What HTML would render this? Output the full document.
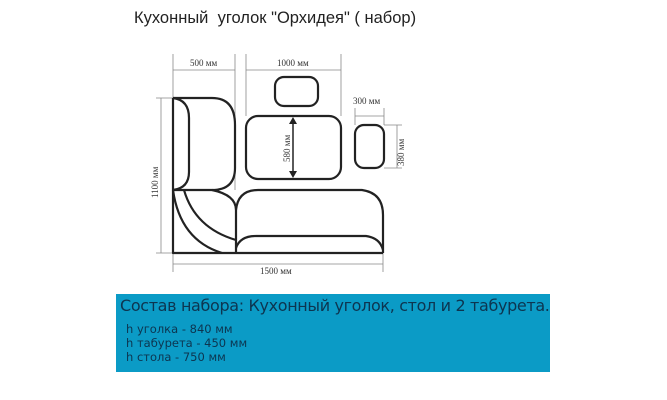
<!DOCTYPE html>
<html><head><meta charset="utf-8"><style>
body{margin:0;width:667px;height:400px;background:#fff;position:relative;overflow:hidden;font-family:"Liberation Sans",sans-serif}
.t{position:absolute;left:134px;top:9px;font-size:16.5px;color:#222;white-space:nowrap;letter-spacing:0px}
.box{position:absolute;left:116px;top:294px;width:434px;height:78px;background:#0b9bc6;color:#0d3550}
.h1{position:absolute;left:4px;top:2px;font-size:16px;white-space:nowrap;font-family:"DejaVu Sans",sans-serif;letter-spacing:-0.35px}
.l{position:absolute;left:10px;font-size:11.5px;white-space:nowrap;font-family:"DejaVu Sans",sans-serif}
svg{position:absolute;left:0;top:0}
svg text{font-family:"Liberation Serif",serif;font-size:9px;fill:#333}
</style></head><body>
<div class="t">Кухонный&nbsp; уголок "Орхидея" ( набор)</div>
<svg width="667" height="290" viewBox="0 0 667 290">
<g stroke="#888" stroke-width="0.8" fill="none">
<line x1="173" y1="54" x2="173" y2="98"/><line x1="235" y1="54" x2="235" y2="190"/>
<line x1="246" y1="54" x2="246" y2="116"/><line x1="341" y1="54" x2="341" y2="116"/>
<line x1="173" y1="70" x2="235" y2="70"/><line x1="246" y1="70" x2="341" y2="70"/>
<line x1="355" y1="108" x2="355" y2="125"/><line x1="384" y1="108" x2="384" y2="125"/>
<line x1="355" y1="116" x2="384" y2="116"/>
<line x1="384" y1="125" x2="402" y2="125"/><line x1="384" y1="168" x2="402" y2="168"/>
<line x1="397" y1="125" x2="397" y2="168"/>
<line x1="156" y1="98" x2="173" y2="98"/><line x1="156" y1="253" x2="173" y2="253"/>
<line x1="161" y1="98" x2="161" y2="253"/>
<line x1="173" y1="253" x2="173" y2="272"/><line x1="383" y1="253" x2="383" y2="272"/>
<line x1="173" y1="264" x2="383" y2="264"/>
</g>
<g stroke="#222" stroke-width="2.2" fill="none" stroke-linejoin="round">
<rect x="275" y="77" width="43" height="29" rx="9"/>
<rect x="246" y="116" width="95" height="63" rx="12"/>
<rect x="355" y="125" width="29" height="43" rx="9"/>
<path d="M173 98 H212 Q235 98 235 125 V168 Q235 190 212 190 H173"/>
<path d="M173 98 Q189 100 189 118 V172 Q189 188 173 190"/>
<path d="M173 98 V253 H383"/>
<path d="M173 190 Q180 240 222 253"/>
<path d="M184 190 Q195 228 236 240"/>
<path d="M212 190 Q236 195 236 210 V253"/>
<path d="M236 210 Q238 190 258 190 H362 Q383 193 383 215 V253"/>
<path d="M236 248 Q240 236 256 236 H366 Q380 238 383 250"/>
</g>
<g stroke="#222" stroke-width="1.5"><line x1="293" y1="121" x2="293" y2="174"/></g>
<path d="M293 117 l-4 7 h8z M293 178 l-4 -7 h8z" fill="#222"/>
<text x="190" y="66">500 мм</text>
<text x="277" y="66">1000 мм</text>
<text x="353" y="104">300 мм</text>
<text transform="translate(290 162) rotate(-90)">580 мм</text>
<text transform="translate(404 166) rotate(-90)">380 мм</text>
<text transform="translate(158 198) rotate(-90)">1100 мм</text>
<text x="260" y="274">1500 мм</text>
</svg>
<div class="box">
<div class="h1">Состав набора: Кухонный уголок, стол и 2 табурета.</div>
<div class="l" style="top:28px">h уголка - 840 мм</div>
<div class="l" style="top:42px">h табурета - 450 мм</div>
<div class="l" style="top:56px">h стола - 750 мм</div>
</div>
</body></html>
